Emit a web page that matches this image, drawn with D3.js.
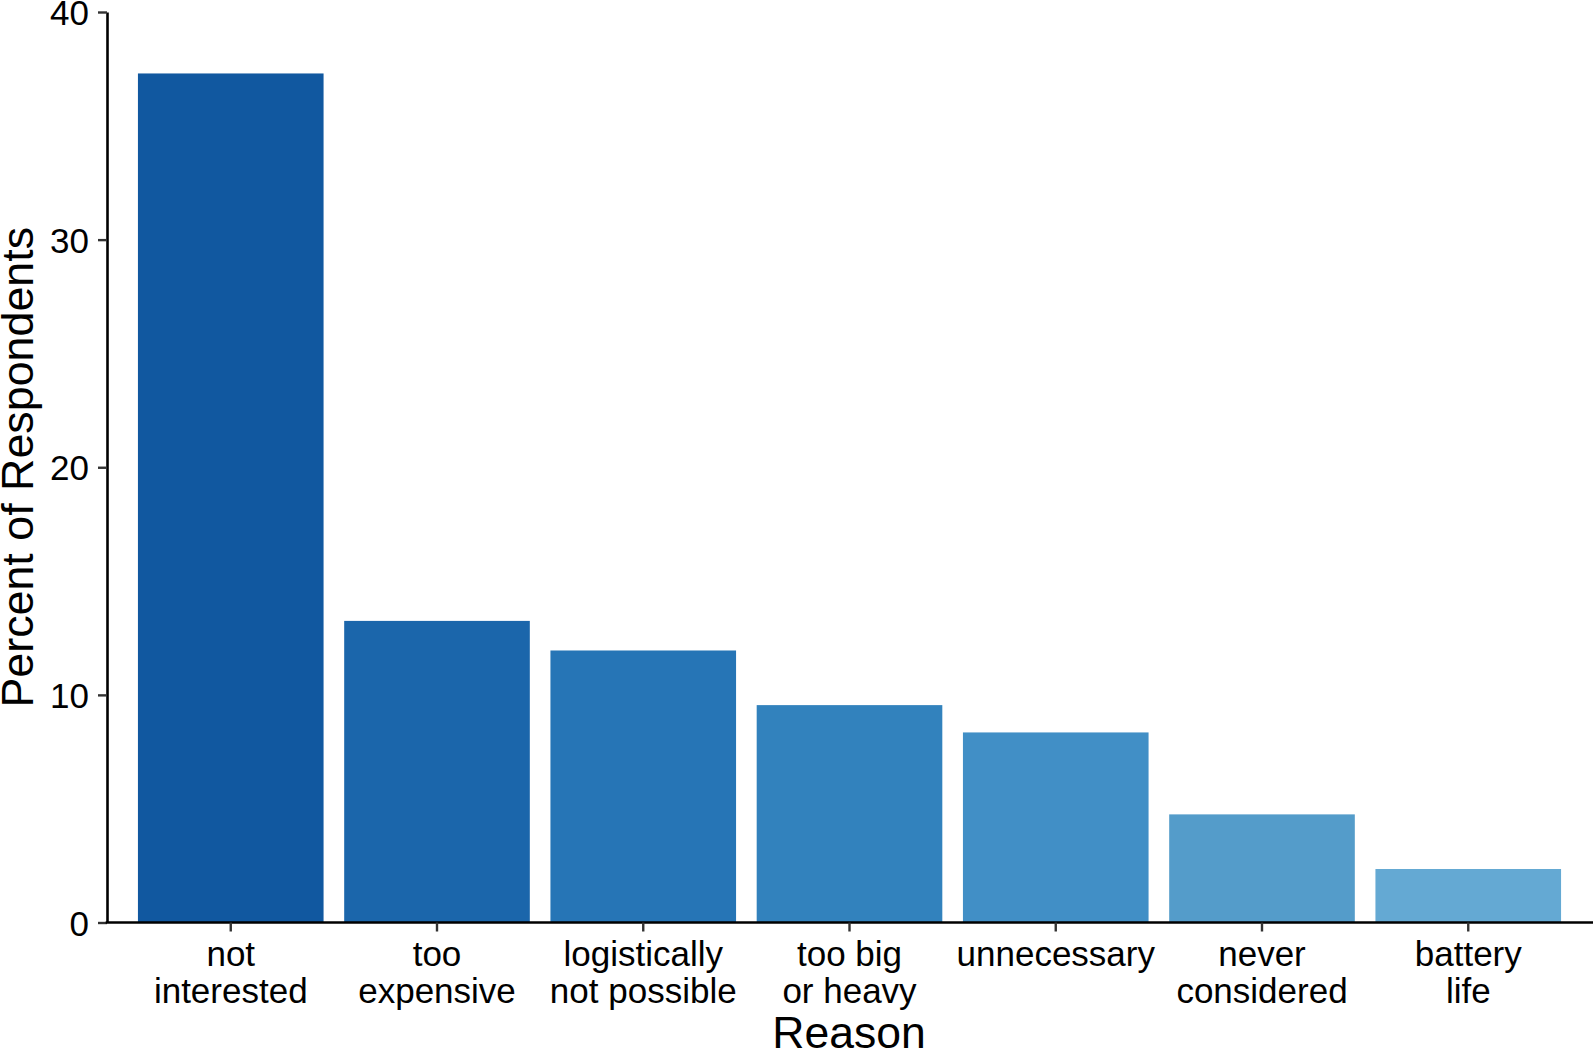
<!DOCTYPE html>
<html>
<head>
<meta charset="utf-8">
<script src="https://cdn.jsdelivr.net/npm/d3@7"></script>
<style>
  html, body { margin: 0; padding: 0; background: #fff; }
  svg { display: block; }
  text { font-family: "Liberation Sans", Arial, Helvetica, sans-serif; fill: #000; }
</style>
</head>
<body>
<svg id="chart" width="1593" height="1054"></svg>
<script>
const categories = ["not interested", "too expensive", "logistically not possible", "too big or heavy", "unnecessary", "never considered", "battery life"];
const labelLines = [["not", "interested"], ["too", "expensive"], ["logistically", "not possible"], ["too big", "or heavy"], ["unnecessary"], ["never", "considered"], ["battery", "life"]];
const values = [37.3, 13.25, 11.95, 9.55, 8.35, 4.75, 2.35];
const barColors = ["#1158A0", "#1B66AB", "#2675B6", "#3282BD", "#418FC6", "#549CCA", "#64A9D3"];
const yTicks = [0, 10, 20, 30, 40];
const xTitle = "Reason";
const yTitle = "Percent of Respondents";

const svg = d3.select("#chart");
const plotLeft = 107, plotRight = 1593, plotTop = 12, plotBottom = 922.5;

const x = d3.scaleBand().domain(categories).range([plotLeft, 1592]).paddingInner(0.1).paddingOuter(0.15);
const y = d3.scaleLinear().domain([0, 40]).range([plotBottom, plotTop]);
const color = d3.scaleOrdinal().domain(categories).range(barColors);

svg.append("g").selectAll("rect").data(categories).join("rect")
  .attr("x", d => x(d))
  .attr("width", x.bandwidth())
  .attr("y", (d, i) => y(values[i]))
  .attr("height", (d, i) => y(0) - y(values[i]))
  .attr("fill", d => color(d));

// Y axis
const yAxis = svg.append("g").attr("transform", `translate(${plotLeft},0)`)
  .call(d3.axisLeft(y).tickValues(yTicks).tickSize(9).tickPadding(9).tickSizeOuter(0));
yAxis.select(".domain").attr("stroke", "#000").attr("stroke-width", 2.6);
yAxis.selectAll(".tick line").attr("stroke", "#333").attr("stroke-width", 2.4);
yAxis.selectAll(".tick text").style("font-size", "35px").attr("fill", "#000").attr("dy", "0.36em");

// X axis
const xAxis = svg.append("g").attr("transform", `translate(0,${plotBottom})`)
  .call(d3.axisBottom(x).tickSize(9).tickSizeOuter(0).tickFormat(""));
xAxis.select(".domain").attr("stroke", "#000").attr("stroke-width", 2.6).attr("d", `M${plotLeft - 1.3},0H${plotRight}`);
xAxis.selectAll(".tick line").attr("stroke", "#333").attr("stroke-width", 2.4);
xAxis.selectAll(".tick").each(function(d, i) {
  const t = d3.select(this).append("text")
    .attr("text-anchor", "middle")
    .style("font-size", "35px");
  labelLines[i].forEach((line, j) => {
    t.append("tspan").attr("x", 0).attr("y", 43 + j * 37.7).text(line);
  });
});

// Titles
svg.append("text")
  .attr("x", 849)
  .attr("y", 1048)
  .attr("text-anchor", "middle")
  .style("font-size", "44.5px")
  .text(xTitle);

svg.append("text")
  .attr("transform", `translate(33,${(plotTop + plotBottom) / 2}) rotate(-90)`)
  .attr("text-anchor", "middle")
  .style("font-size", "44.8px")
  .text(yTitle);
</script>
</body>
</html>
